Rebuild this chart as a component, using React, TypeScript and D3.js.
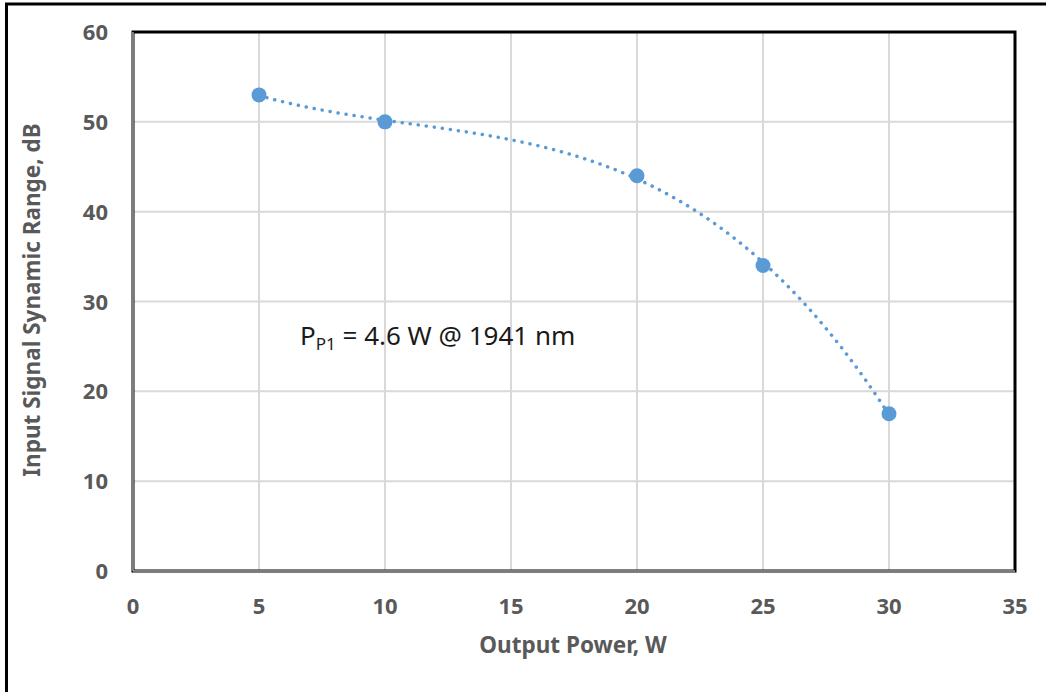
import React from "react";
import * as d3 from "d3";

const xValues = [5, 10, 20, 25, 30];
const yValues = [53, 50, 44, 34, 17.5];
const xTicks = [0, 5, 10, 15, 20, 25, 30, 35];
const yTicks = [0, 10, 20, 30, 40, 50, 60];

const W = 1046;
const H = 692;
const plot = { left: 133, right: 1015, top: 32, bottom: 571 };
const font = "'Noto Sans', 'Open Sans', sans-serif";
const grey = "#595959";

// least-squares polynomial trendline (like a spreadsheet trendline)
function polyFit(xs: number[], ys: number[], order: number): number[] {
  const n = order + 1;
  const A: number[][] = [];
  for (let r = 0; r < n; r++) {
    const row: number[] = [];
    for (let c = 0; c < n; c++) {
      row.push(d3.sum(xs, (xv) => Math.pow(xv, r + c)));
    }
    row.push(d3.sum(xs, (xv, i) => Math.pow(xv, r) * ys[i]));
    A.push(row);
  }
  for (let i = 0; i < n; i++) {
    let max = i;
    for (let k = i + 1; k < n; k++) if (Math.abs(A[k][i]) > Math.abs(A[max][i])) max = k;
    [A[i], A[max]] = [A[max], A[i]];
    for (let k = i + 1; k < n; k++) {
      const f = A[k][i] / A[i][i];
      for (let j = i; j <= n; j++) A[k][j] -= f * A[i][j];
    }
  }
  const coef = new Array(n).fill(0);
  for (let i = n - 1; i >= 0; i--) {
    let s = A[i][n];
    for (let j = i + 1; j < n; j++) s -= A[i][j] * coef[j];
    coef[i] = s / A[i][i];
  }
  return coef;
}

export default function App() {
  const x = d3.scaleLinear().domain([0, 35]).range([plot.left, plot.right]);
  const y = d3.scaleLinear().domain([0, 60]).range([plot.bottom, plot.top]);
  const pts: [number, number][] = xValues.map((v, i) => [v, yValues[i]]);
  const coef = polyFit(xValues, yValues, 3);
  const evalPoly = (v: number) => coef.reduce((s, c, i) => s + c * Math.pow(v, i), 0);
  const [x0, x1] = d3.extent(xValues) as [number, number];
  const trend: [number, number][] = d3.range(0, 201).map((i) => {
    const v = x0 + ((x1 - x0) * i) / 200;
    return [v, evalPoly(v)];
  });
  const line = d3
    .line<[number, number]>()
    .x((d) => x(d[0]))
    .y((d) => y(d[1]));

  return (
    <svg
      width={W}
      height={H}
      style={{ position: "absolute", left: 0, top: 0, background: "#fff" }}
    >
      <rect x={0} y={0} width={W} height={H} fill="#fff" />
      <rect x={6.5} y={4} width={W + 20} height={H + 20} fill="none" stroke="#000" strokeWidth={3} />
      {xTicks.map((t) => (
        <line key={"gx" + t} x1={x(t)} x2={x(t)} y1={plot.top} y2={plot.bottom} stroke="#d9d9d9" strokeWidth={2} />
      ))}
      {yTicks.map((t) => (
        <line key={"gy" + t} x1={plot.left} x2={plot.right} y1={y(t)} y2={y(t)} stroke="#d9d9d9" strokeWidth={2} />
      ))}
      <rect
        x={plot.left}
        y={plot.top}
        width={plot.right - plot.left}
        height={plot.bottom - plot.top}
        fill="none"
        stroke="#000"
        strokeWidth={3}
      />
      <line x1={plot.left} x2={plot.left} y1={plot.top} y2={plot.bottom} stroke="#a6a6a6" strokeWidth={1.5} />
      <line x1={plot.left} x2={plot.right} y1={plot.bottom} y2={plot.bottom} stroke="#a6a6a6" strokeWidth={1.5} />
      <path
        d={line(trend) || ""}
        fill="none"
        stroke="#5b9bd5"
        strokeWidth={3.5}
        strokeLinecap="round"
        strokeDasharray="0.1 8"
      />
      {pts.map((p, i) => (
        <circle key={"p" + i} cx={x(p[0])} cy={y(p[1])} r={7.5} fill="#5b9bd5" />
      ))}
      {xTicks.map((t) => (
        <text
          key={"tx" + t}
          x={x(t)}
          y={614}
          textAnchor="middle"
          fontFamily={font}
          fontWeight="bold"
          fontSize={22}
          fill={grey}
        >
          {t}
        </text>
      ))}
      {yTicks.map((t) => (
        <text
          key={"ty" + t}
          x={108}
          y={y(t) + 8}
          textAnchor="end"
          fontFamily={font}
          fontWeight="bold"
          fontSize={22}
          fill={grey}
        >
          {t}
        </text>
      ))}
      <text
        x={573}
        y={653}
        textAnchor="middle"
        fontFamily={font}
        fontWeight="bold"
        fontSize={22.5}
        fill={grey}
      >
        Output Power, W
      </text>
      <text
        transform={`translate(40,300) rotate(-90)`}
        textAnchor="middle"
        fontFamily={font}
        fontWeight="bold"
        fontSize={22.5}
        fill={grey}
      >
        Input Signal Synamic Range, dB
      </text>
      <text x={300} y={345} fontFamily={font} fontSize={26} fill="#1a1a1a">
        P<tspan fontSize={17} dy={5}>P1</tspan>
        <tspan dy={-5}> = 4.6 W @ 1941 nm</tspan>
      </text>
    </svg>
  );
}
